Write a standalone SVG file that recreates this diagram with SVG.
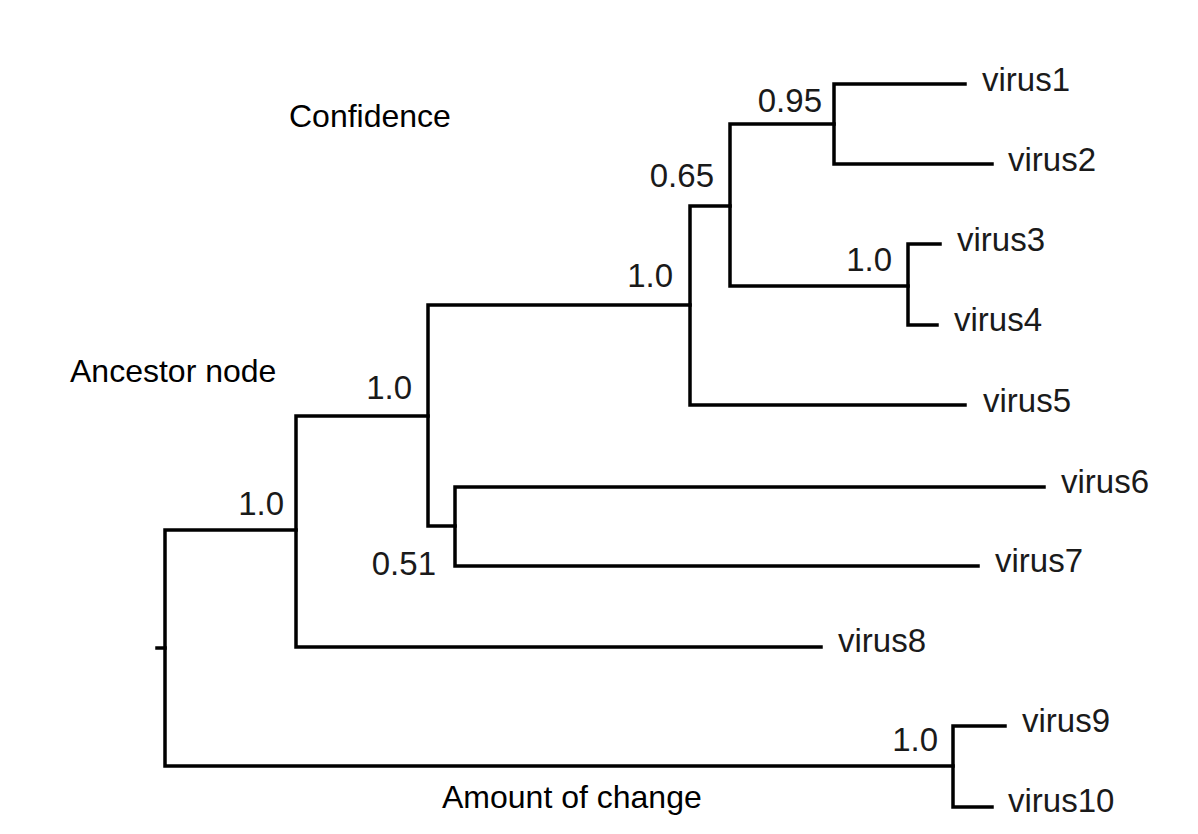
<svg xmlns="http://www.w3.org/2000/svg" width="1198" height="834" viewBox="0 0 1198 834">
<style>
.e{fill:none;stroke:#000;stroke-width:3.5;stroke-linecap:square;stroke-linejoin:miter}
.lf{font-family:"Liberation Sans",Arial,sans-serif;font-size:33px;fill:#1a1a1a}
.cf{font-family:"Liberation Sans",Arial,sans-serif;font-size:33px;fill:#1a1a1a;text-anchor:end}
.ann{font-family:"Liberation Sans",Arial,sans-serif;font-size:32px;fill:#000}
</style>
<rect width="1198" height="834" fill="#fff"/>
<g id="connectors">
<path class="e" d="M157,648 H165"/>
<path class="e" d="M296,530 H165 V766 H953"/>
<path class="e" d="M428,416 H296 V647 H821"/>
<path class="e" d="M690,305 H428 V526 H455"/>
<path class="e" d="M730,206 H690 V405 H965"/>
<path class="e" d="M834,124 H730 V286 H908"/>
<path class="e" d="M965,84 H834 V164 H992"/>
<path class="e" d="M940,244 H908 V325 H937"/>
<path class="e" d="M1044,487 H455 V566 H978"/>
<path class="e" d="M1005,726 H953 V807 H992"/>
</g>
<g id="virus1"><text class="lf" x="982" y="91">virus1</text></g>
<g id="virus2"><text class="lf" x="1008" y="171">virus2</text></g>
<g id="virus3"><text class="lf" x="957" y="251">virus3</text></g>
<g id="virus4"><text class="lf" x="954" y="331">virus4</text></g>
<g id="virus5"><text class="lf" x="983" y="412">virus5</text></g>
<g id="virus6"><text class="lf" x="1061" y="493">virus6</text></g>
<g id="virus7"><text class="lf" x="995" y="572">virus7</text></g>
<g id="virus8"><text class="lf" x="838" y="652">virus8</text></g>
<g id="virus9"><text class="lf" x="1022" y="732">virus9</text></g>
<g id="virus10"><text class="lf" x="1008" y="812">virus10</text></g>
<g id="node-095"><text class="cf" x="822" y="112">0.95</text></g>
<g id="node-065"><text class="cf" x="714" y="187">0.65</text></g>
<g id="node-v34"><text class="cf" x="892" y="271">1.0</text></g>
<g id="node-c"><text class="cf" x="673" y="287">1.0</text></g>
<g id="node-b"><text class="cf" x="412" y="399">1.0</text></g>
<g id="node-051"><text class="cf" x="436" y="575">0.51</text></g>
<g id="node-a"><text class="cf" x="284" y="515">1.0</text></g>
<g id="node-v910"><text class="cf" x="938" y="751">1.0</text></g>
<g id="label-confidence"><text class="ann" x="289" y="127">Confidence</text></g>
<g id="label-ancestor"><text class="ann" x="70" y="382">Ancestor node</text></g>
<g id="label-change"><text class="ann" x="442" y="808">Amount of change</text></g>
</svg>
